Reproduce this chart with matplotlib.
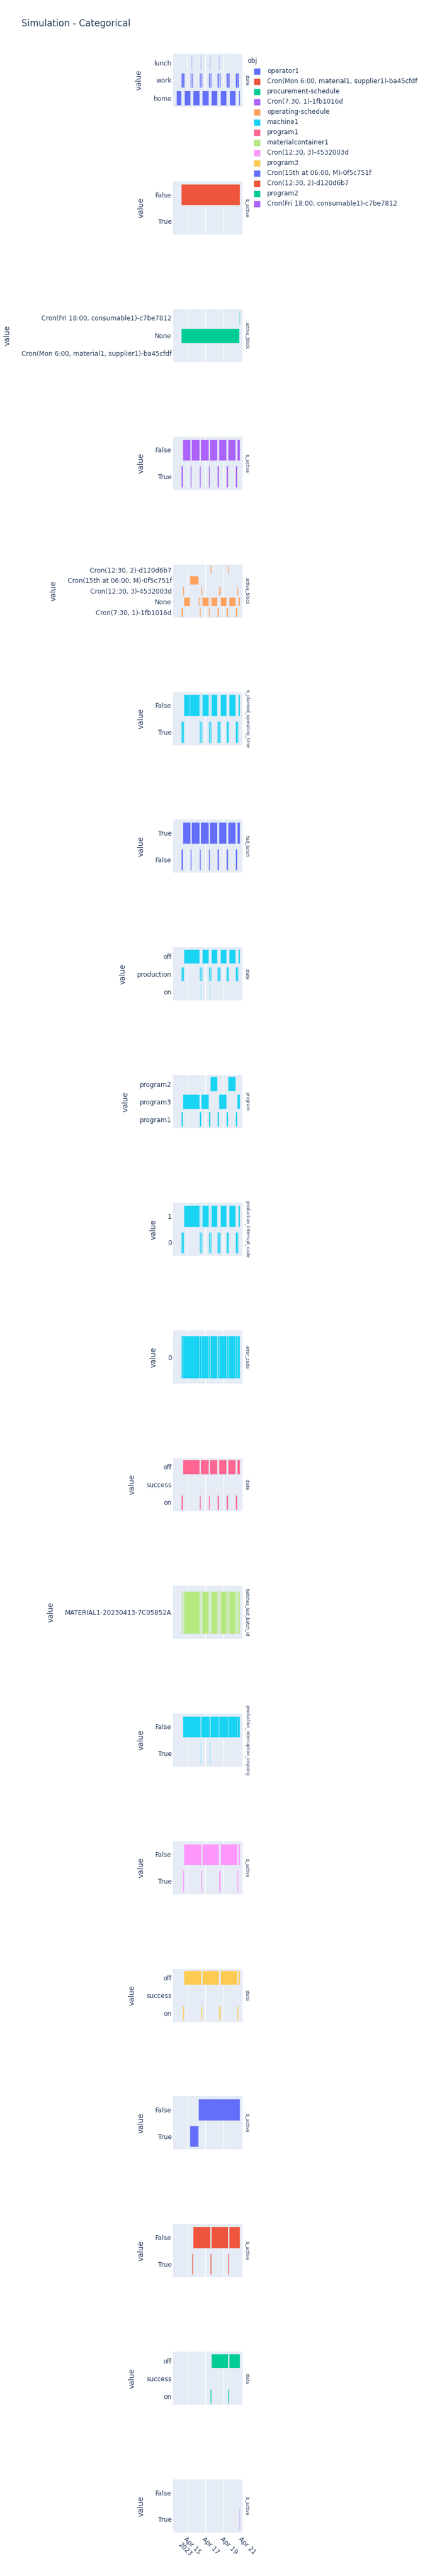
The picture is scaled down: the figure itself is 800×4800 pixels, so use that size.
import matplotlib
matplotlib.use("Agg")
import matplotlib.pyplot as plt
import matplotlib.dates as mdates
from matplotlib.patches import Rectangle
import pandas as pd

plt.rcParams['font.family'] = ['DejaVu Sans']

# legend entries (obj) and plotly default colours
objects = ['operator1', 'Cron(Mon 6:00, material1, supplier1)-ba45cfdf', 'procurement-schedule',
           'Cron(7:30, 1)-1fb1016d', 'operating-schedule', 'machine1', 'program1',
           'materialcontainer1', 'Cron(12:30, 3)-4532003d', 'program3',
           'Cron(15th at 06:00, M)-0f5c751f', 'Cron(12:30, 2)-d120d6b7', 'program2',
           'Cron(Fri 18:00, consumable1)-c7be7812']
colors = ['#636EFA', '#EF553B', '#00CC96', '#AB63FA', '#FFA15A', '#19D3F3', '#FF6692',
          '#B6E880', '#FF97FF', '#FECB52', '#636EFA', '#EF553B', '#00CC96', '#AB63FA']

CMON = 'Cron(Mon 6:00, material1, supplier1)-ba45cfdf'
CFRI = 'Cron(Fri 18:00, consumable1)-c7be7812'
C7 = 'Cron(7:30, 1)-1fb1016d'
C3 = 'Cron(12:30, 3)-4532003d'
C15 = 'Cron(15th at 06:00, M)-0f5c751f'
C2 = 'Cron(12:30, 2)-d120d6b7'
BATCH = 'MATERIAL1-20230413-7C05852A'

# (start, end, value) records per object/attribute, year 2023
operator1_state = [
    ("04-13 18:45", "04-14 07:30", "home"),
    ("04-14 07:30", "04-14 11:00", "work"), ("04-14 11:00", "04-14 12:00", "lunch"),
    ("04-14 12:00", "04-14 15:15", "work"), ("04-14 15:15", "04-15 07:30", "home"),
    ("04-15 07:30", "04-15 11:00", "work"), ("04-15 11:00", "04-15 12:00", "lunch"),
    ("04-15 12:00", "04-15 15:15", "work"), ("04-15 15:15", "04-16 07:30", "home"),
    ("04-16 07:30", "04-16 11:00", "work"), ("04-16 11:00", "04-16 12:00", "lunch"),
    ("04-16 12:00", "04-16 15:15", "work"), ("04-16 15:15", "04-17 07:30", "home"),
    ("04-17 07:30", "04-17 11:00", "work"), ("04-17 11:00", "04-17 12:00", "lunch"),
    ("04-17 12:00", "04-17 15:15", "work"), ("04-17 15:15", "04-18 07:30", "home"),
    ("04-18 07:30", "04-18 11:00", "work"), ("04-18 11:00", "04-18 12:00", "lunch"),
    ("04-18 12:00", "04-18 15:15", "work"), ("04-18 15:15", "04-19 07:30", "home"),
    ("04-19 07:30", "04-19 11:00", "work"), ("04-19 11:00", "04-19 12:00", "lunch"),
    ("04-19 12:00", "04-19 15:15", "work"), ("04-19 15:15", "04-20 07:30", "home"),
    ("04-20 07:30", "04-20 11:00", "work"), ("04-20 11:00", "04-20 12:00", "lunch"),
    ("04-20 12:00", "04-20 15:15", "work"), ("04-20 15:15", "04-20 18:00", "home"),
]
cron_mon_is_active = [
    ("04-14 06:45", "04-14 07:15", "True"), ("04-14 07:15", "04-20 18:00", "False"),
]
procurement_active_block = [
    ("04-14 06:45", "04-14 07:15", CMON), ("04-14 07:15", "04-20 17:15", "None"),
    ("04-20 17:15", "04-20 18:00", CFRI),
]
cron_730_is_active = [
    ("04-14 07:30", "04-14 11:00", "True"), ("04-14 11:00", "04-15 07:30", "False"),
    ("04-15 07:30", "04-15 11:00", "True"), ("04-15 11:00", "04-16 07:30", "False"),
    ("04-16 07:30", "04-16 11:00", "True"), ("04-16 11:00", "04-17 07:30", "False"),
    ("04-17 07:30", "04-17 11:00", "True"), ("04-17 11:00", "04-18 07:30", "False"),
    ("04-18 07:30", "04-18 11:00", "True"), ("04-18 11:00", "04-19 07:30", "False"),
    ("04-19 07:30", "04-19 11:00", "True"), ("04-19 11:00", "04-20 07:30", "False"),
    ("04-20 07:30", "04-20 11:00", "True"), ("04-20 11:00", "04-20 18:00", "False"),
]
operating_active_block = [
    ("04-14 07:30", "04-14 11:00", C7), ("04-14 11:00", "04-14 11:45", "None"),
    ("04-14 11:45", "04-14 15:00", C3), ("04-14 15:00", "04-15 06:00", "None"),
    ("04-15 06:00", "04-16 05:15", C15), ("04-16 05:15", "04-16 07:30", "None"),
    ("04-16 07:30", "04-16 11:00", C7), ("04-16 11:00", "04-16 11:45", "None"),
    ("04-16 11:45", "04-16 15:00", C3), ("04-16 15:00", "04-17 07:30", "None"),
    ("04-17 07:30", "04-17 11:00", C7), ("04-17 11:00", "04-17 11:45", "None"),
    ("04-17 11:45", "04-17 14:30", C2), ("04-17 14:30", "04-18 07:30", "None"),
    ("04-18 07:30", "04-18 11:00", C7), ("04-18 11:00", "04-18 11:45", "None"),
    ("04-18 11:45", "04-18 15:00", C3), ("04-18 15:00", "04-19 07:30", "None"),
    ("04-19 07:30", "04-19 11:00", C7), ("04-19 11:00", "04-19 11:45", "None"),
    ("04-19 11:45", "04-19 14:30", C2), ("04-19 14:30", "04-20 07:30", "None"),
    ("04-20 07:30", "04-20 11:00", C7), ("04-20 11:00", "04-20 11:45", "None"),
    ("04-20 11:45", "04-20 15:00", C3), ("04-20 15:00", "04-20 18:00", "None"),
]
machine1_is_planned = [
    ("04-14 07:30", "04-14 11:00", "True"), ("04-14 11:00", "04-14 11:45", "False"),
    ("04-14 11:45", "04-14 15:00", "True"), ("04-14 15:00", "04-15 06:00", "False"),
    ("04-15 06:00", "04-16 07:30", "False"),
    ("04-16 07:30", "04-16 11:00", "True"), ("04-16 11:00", "04-16 11:45", "False"),
    ("04-16 11:45", "04-16 15:00", "True"), ("04-16 15:00", "04-17 07:30", "False"),
    ("04-17 07:30", "04-17 11:00", "True"), ("04-17 11:00", "04-17 11:45", "False"),
    ("04-17 11:45", "04-17 14:30", "True"), ("04-17 14:30", "04-18 07:30", "False"),
    ("04-18 07:30", "04-18 11:00", "True"), ("04-18 11:00", "04-18 11:45", "False"),
    ("04-18 11:45", "04-18 15:00", "True"), ("04-18 15:00", "04-19 07:30", "False"),
    ("04-19 07:30", "04-19 11:00", "True"), ("04-19 11:00", "04-19 11:45", "False"),
    ("04-19 11:45", "04-19 14:30", "True"), ("04-19 14:30", "04-20 07:30", "False"),
    ("04-20 07:30", "04-20 11:00", "True"), ("04-20 11:00", "04-20 11:45", "False"),
    ("04-20 11:45", "04-20 15:00", "True"), ("04-20 15:00", "04-20 18:00", "False"),
]
operator1_had_lunch = [
    ("04-14 07:30", "04-14 11:00", "False"), ("04-14 11:00", "04-15 07:30", "True"),
    ("04-15 07:30", "04-15 11:00", "False"), ("04-15 11:00", "04-16 07:30", "True"),
    ("04-16 07:30", "04-16 11:00", "False"), ("04-16 11:00", "04-17 07:30", "True"),
    ("04-17 07:30", "04-17 11:00", "False"), ("04-17 11:00", "04-18 07:30", "True"),
    ("04-18 07:30", "04-18 11:00", "False"), ("04-18 11:00", "04-19 07:30", "True"),
    ("04-19 07:30", "04-19 11:00", "False"), ("04-19 11:00", "04-20 07:30", "True"),
    ("04-20 07:30", "04-20 11:00", "False"), ("04-20 11:00", "04-20 18:00", "True"),
]
machine1_state = [
    ("04-14 07:30", "04-14 11:00", "production"), ("04-14 11:00", "04-14 11:45", "on"),
    ("04-14 11:45", "04-14 15:00", "production"), ("04-14 15:00", "04-16 07:30", "off"),
    ("04-16 07:30", "04-16 11:00", "production"), ("04-16 11:00", "04-16 11:45", "on"),
    ("04-16 11:45", "04-16 15:00", "production"), ("04-16 15:00", "04-17 07:30", "off"),
    ("04-17 07:30", "04-17 11:00", "production"), ("04-17 11:00", "04-17 11:45", "on"),
    ("04-17 11:45", "04-17 14:30", "production"), ("04-17 14:30", "04-18 07:30", "off"),
    ("04-18 07:30", "04-18 11:00", "production"), ("04-18 11:00", "04-18 11:45", "on"),
    ("04-18 11:45", "04-18 15:00", "production"), ("04-18 15:00", "04-19 07:30", "off"),
    ("04-19 07:30", "04-19 11:00", "production"), ("04-19 11:00", "04-19 11:45", "on"),
    ("04-19 11:45", "04-19 14:30", "production"), ("04-19 14:30", "04-20 07:30", "off"),
    ("04-20 07:30", "04-20 11:00", "production"), ("04-20 11:00", "04-20 11:45", "on"),
    ("04-20 11:45", "04-20 15:00", "production"), ("04-20 15:00", "04-20 18:00", "off"),
]
machine1_program = [
    ("04-14 07:30", "04-14 11:45", "program1"), ("04-14 11:45", "04-16 07:30", "program3"),
    ("04-16 07:30", "04-16 11:45", "program1"), ("04-16 11:45", "04-17 07:30", "program3"),
    ("04-17 07:30", "04-17 11:45", "program1"), ("04-17 11:45", "04-18 07:30", "program2"),
    ("04-18 07:30", "04-18 11:45", "program1"), ("04-18 11:45", "04-19 07:30", "program3"),
    ("04-19 07:30", "04-19 11:45", "program1"), ("04-19 11:45", "04-20 07:30", "program2"),
    ("04-20 07:30", "04-20 11:45", "program1"), ("04-20 11:45", "04-20 18:00", "program3"),
]
machine1_interrupt_code = [
    ("04-14 07:30", "04-14 11:00", "0"), ("04-14 11:00", "04-14 11:45", "1"),
    ("04-14 11:45", "04-14 15:00", "0"), ("04-14 15:00", "04-16 07:30", "1"),
    ("04-16 07:30", "04-16 11:00", "0"), ("04-16 11:00", "04-16 11:45", "1"),
    ("04-16 11:45", "04-16 15:00", "0"), ("04-16 15:00", "04-17 07:30", "1"),
    ("04-17 07:30", "04-17 11:00", "0"), ("04-17 11:00", "04-17 11:45", "1"),
    ("04-17 11:45", "04-17 14:30", "0"), ("04-17 14:30", "04-18 07:30", "1"),
    ("04-18 07:30", "04-18 11:00", "0"), ("04-18 11:00", "04-18 11:45", "1"),
    ("04-18 11:45", "04-18 15:00", "0"), ("04-18 15:00", "04-19 07:30", "1"),
    ("04-19 07:30", "04-19 11:00", "0"), ("04-19 11:00", "04-19 11:45", "1"),
    ("04-19 11:45", "04-19 14:30", "0"), ("04-19 14:30", "04-20 07:30", "1"),
    ("04-20 07:30", "04-20 11:00", "0"), ("04-20 11:00", "04-20 11:45", "1"),
    ("04-20 11:45", "04-20 15:00", "0"), ("04-20 15:00", "04-20 18:00", "1"),
]
machine1_error_code = [
    ("04-14 07:30", "04-14 11:45", "0"), ("04-14 11:45", "04-16 07:30", "0"),
    ("04-16 07:30", "04-16 11:45", "0"), ("04-16 11:45", "04-17 07:30", "0"),
    ("04-17 07:30", "04-17 11:45", "0"), ("04-17 11:45", "04-18 07:30", "0"),
    ("04-18 07:30", "04-18 11:45", "0"), ("04-18 11:45", "04-19 07:30", "0"),
    ("04-19 07:30", "04-19 11:45", "0"), ("04-19 11:45", "04-20 07:30", "0"),
    ("04-20 07:30", "04-20 11:45", "0"), ("04-20 11:45", "04-20 18:00", "0"),
]
program1_state = [
    ("04-14 07:30", "04-14 11:00", "on"), ("04-14 11:00", "04-16 07:30", "off"),
    ("04-16 07:30", "04-16 11:00", "on"), ("04-16 11:00", "04-17 07:30", "off"),
    ("04-17 07:30", "04-17 11:00", "on"), ("04-17 11:00", "04-18 07:30", "off"),
    ("04-18 07:30", "04-18 11:00", "on"), ("04-18 11:00", "04-19 07:30", "off"),
    ("04-19 07:30", "04-19 11:00", "on"), ("04-19 11:00", "04-20 07:30", "off"),
    ("04-20 07:30", "04-20 11:00", "on"), ("04-20 11:00", "04-20 18:00", "off"),
]
materialcontainer1_batch = [
    ("04-14 07:30", "04-14 09:00", BATCH), ("04-14 09:00", "04-14 11:00", BATCH),
    ("04-14 11:00", "04-14 11:45", BATCH), ("04-14 11:45", "04-14 13:15", BATCH),
    ("04-14 13:15", "04-14 15:00", BATCH), ("04-14 15:00", "04-16 07:30", BATCH),
    ("04-16 07:30", "04-16 09:00", BATCH), ("04-16 09:00", "04-16 11:00", BATCH),
    ("04-16 11:00", "04-16 11:45", BATCH), ("04-16 11:45", "04-16 13:15", BATCH),
    ("04-16 13:15", "04-16 15:00", BATCH), ("04-16 15:00", "04-17 07:30", BATCH),
    ("04-17 07:30", "04-17 09:00", BATCH), ("04-17 09:00", "04-17 11:00", BATCH),
    ("04-17 11:00", "04-17 11:45", BATCH), ("04-17 11:45", "04-17 13:15", BATCH),
    ("04-17 13:15", "04-17 14:30", BATCH), ("04-17 14:30", "04-18 07:30", BATCH),
    ("04-18 07:30", "04-18 09:00", BATCH), ("04-18 09:00", "04-18 11:00", BATCH),
    ("04-18 11:00", "04-18 11:45", BATCH), ("04-18 11:45", "04-18 13:15", BATCH),
    ("04-18 13:15", "04-18 15:00", BATCH), ("04-18 15:00", "04-19 07:30", BATCH),
    ("04-19 07:30", "04-19 09:00", BATCH), ("04-19 09:00", "04-19 11:00", BATCH),
    ("04-19 11:00", "04-19 11:45", BATCH), ("04-19 11:45", "04-19 13:15", BATCH),
    ("04-19 13:15", "04-19 14:30", BATCH), ("04-19 14:30", "04-20 07:30", BATCH),
    ("04-20 07:30", "04-20 09:00", BATCH), ("04-20 09:00", "04-20 11:00", BATCH),
    ("04-20 11:00", "04-20 11:45", BATCH), ("04-20 11:45", "04-20 13:15", BATCH),
    ("04-20 13:15", "04-20 15:00", BATCH), ("04-20 15:00", "04-20 18:00", BATCH),
]
machine1_interruption_ongoing = [
    ("04-14 11:00", "04-14 11:45", "True"), ("04-14 11:45", "04-16 11:00", "False"),
    ("04-16 11:00", "04-16 11:45", "True"), ("04-16 11:45", "04-17 11:00", "False"),
    ("04-17 11:00", "04-17 11:45", "True"), ("04-17 11:45", "04-18 11:00", "False"),
    ("04-18 11:00", "04-18 11:45", "True"), ("04-18 11:45", "04-19 11:00", "False"),
    ("04-19 11:00", "04-19 11:45", "True"), ("04-19 11:45", "04-20 11:00", "False"),
    ("04-20 11:00", "04-20 11:45", "True"), ("04-20 11:45", "04-20 18:00", "False"),
]
cron_1230_3_is_active = [
    ("04-14 11:45", "04-14 15:00", "True"), ("04-14 15:00", "04-16 11:45", "False"),
    ("04-16 11:45", "04-16 15:00", "True"), ("04-16 15:00", "04-18 11:45", "False"),
    ("04-18 11:45", "04-18 15:00", "True"), ("04-18 15:00", "04-20 11:45", "False"),
    ("04-20 11:45", "04-20 15:00", "True"), ("04-20 15:00", "04-20 18:00", "False"),
]
program3_state = [
    ("04-14 11:45", "04-14 15:00", "on"), ("04-14 15:00", "04-16 11:45", "off"),
    ("04-16 11:45", "04-16 15:00", "on"), ("04-16 15:00", "04-18 11:45", "off"),
    ("04-18 11:45", "04-18 15:00", "on"), ("04-18 15:00", "04-20 11:45", "off"),
    ("04-20 11:45", "04-20 15:00", "on"), ("04-20 15:00", "04-20 18:00", "off"),
]
cron_15th_is_active = [
    ("04-15 06:00", "04-16 05:15", "True"), ("04-16 05:15", "04-20 18:00", "False"),
]
cron_1230_2_is_active = [
    ("04-15 11:45", "04-15 14:30", "True"), ("04-15 14:30", "04-17 11:45", "False"),
    ("04-17 11:45", "04-17 14:30", "True"), ("04-17 14:30", "04-19 11:45", "False"),
    ("04-19 11:45", "04-19 14:30", "True"), ("04-19 14:30", "04-20 18:00", "False"),
]
program2_state = [
    ("04-17 11:45", "04-17 14:30", "on"), ("04-17 14:30", "04-19 11:45", "off"),
    ("04-19 11:45", "04-19 14:30", "on"), ("04-19 14:30", "04-20 18:00", "off"),
]
cron_fri_is_active = [
    ("04-20 17:15", "04-20 18:00", "True"),
]

# facet rows: records, obj, y categories (bottom -> top), attribute name
panels = [
    (operator1_state, 'operator1', ['home', 'work', 'lunch'], 'state'),
    (cron_mon_is_active, CMON, ['True', 'False'], 'is_active'),
    (procurement_active_block, 'procurement-schedule', [CMON, 'None', CFRI], 'active_block'),
    (cron_730_is_active, C7, ['True', 'False'], 'is_active'),
    (operating_active_block, 'operating-schedule', [C7, 'None', C3, C15, C2], 'active_block'),
    (machine1_is_planned, 'machine1', ['True', 'False'], 'is_planned_operating_time'),
    (operator1_had_lunch, 'operator1', ['False', 'True'], 'had_lunch'),
    (machine1_state, 'machine1', ['on', 'production', 'off'], 'state'),
    (machine1_program, 'machine1', ['program1', 'program3', 'program2'], 'program'),
    (machine1_interrupt_code, 'machine1', ['0', '1'], 'production_interrupt_code'),
    (machine1_error_code, 'machine1', ['0'], 'error_code'),
    (program1_state, 'program1', ['on', 'success', 'off'], 'state'),
    (materialcontainer1_batch, 'materialcontainer1', [BATCH], 'batches_last_batch_id'),
    (machine1_interruption_ongoing, 'machine1', ['True', 'False'], 'production_interruption_ongoing'),
    (cron_1230_3_is_active, C3, ['True', 'False'], 'is_active'),
    (program3_state, 'program3', ['on', 'success', 'off'], 'state'),
    (cron_15th_is_active, C15, ['True', 'False'], 'is_active'),
    (cron_1230_2_is_active, C2, ['True', 'False'], 'is_active'),
    (program2_state, 'program2', ['on', 'success', 'off'], 'state'),
    (cron_fri_is_active, CFRI, ['True', 'False'], 'is_active'),
]

x_range = ["04-13 09:15", "04-21 03:15"]
xtick_dates = ["04-15 00:00", "04-17 00:00", "04-19 00:00", "04-21 00:00"]
xtick_labels = ['Apr 15\n2023', 'Apr 17', 'Apr 19', 'Apr 21']


def to_num(strings):
    return mdates.date2num(pd.to_datetime(['2023-' + s for s in strings]).to_pydatetime())


W, H = 800, 4800
TXT = '#2a3f5f'
BG = '#E5ECF6'
fig = plt.figure(figsize=(W / 100, H / 100), dpi=100)

fig.text(40 / W, 1 - 44 / H, 'Simulation - Categorical', fontsize=12.2, color=TXT, va='center')

xlim = to_num(x_range)
xticks = to_num(xtick_dates)

for i, (records, obj, cats, attr) in enumerate(panels):
    top = 100 + i * 237.9
    ax = fig.add_axes([321.5 / W, 1 - (top + 99) / H, 130.5 / W, 99 / H])
    ax.set_facecolor(BG)
    color = colors[objects.index(obj)]
    starts = to_num([r[0] for r in records])
    ends = to_num([r[1] for r in records])
    ys = [cats.index(r[2]) for r in records]
    ax.barh(ys, ends - starts, left=starts, height=0.8, color=color,
            edgecolor=BG, linewidth=0.36, zorder=3)
    ax.set_xlim(xlim)
    ax.set_ylim(-0.5, len(cats) - 0.5)
    ax.set_yticks(range(len(cats)))
    ax.set_yticklabels(cats, fontsize=8.64, color=TXT)
    ax.set_xticks(xticks)
    ax.grid(axis='x', color='white', linewidth=0.9, zorder=0)
    ax.set_axisbelow(True)
    ax.tick_params(length=0, pad=1.5)
    for s in ax.spines.values():
        s.set_visible(False)
    ax.set_ylabel('value', fontsize=10, color=TXT, labelpad=14)
    if i == len(panels) - 1:
        ax.set_xticklabels(xtick_labels, fontsize=8.64, color=TXT, rotation=-45,
                           ha='left', va='top', rotation_mode='anchor')
        ax.tick_params(axis='x', pad=4)
    else:
        ax.tick_params(axis='x', labelbottom=False)
    fig.text(459.5 / W, 1 - (top + 49.5) / H, attr, rotation=-90, fontsize=5.8,
             color=TXT, ha='center', va='center')

# legend
fig.text(460 / W, 1 - 113 / H, 'obj', fontsize=8.64, color=TXT, va='center')
for k, (name, c) in enumerate(zip(objects, colors)):
    yc = 132.7 + 19 * k
    fig.patches.append(Rectangle((472 / W, 1 - (yc + 6) / H), 12 / W, 12 / H,
                                 transform=fig.transFigure, facecolor=c,
                                 edgecolor=BG, linewidth=0.36))
    fig.text(497 / W, 1 - yc / H, name, fontsize=8.64, color=TXT, va='center')

fig.savefig('out.png', dpi=100, facecolor='white')
